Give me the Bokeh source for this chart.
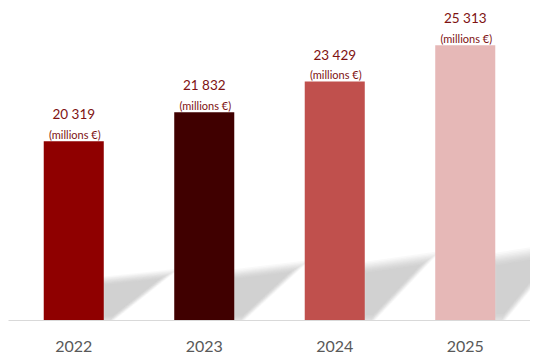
from bokeh.plotting import figure
from bokeh.models import Range1d, FixedTicker, ColumnDataSource
from bokeh.core.properties import value
from bokeh.embed import file_html
from bokeh.resources import INLINE

# ---- data ----
years = ["2022", "2023", "2024", "2025"]
revenue = [20319, 21832, 23429, 25313]
unit_label = "(millions €)"
bar_colors = ["#8f0000", "#400000", "#c0504d", "#e6b8b7"]

BASE = 11000
TOP = 27230
BAR_W = 0.46

centers = [i + 0.5 for i in range(len(years))]
labels = [f"{v:,}".replace(",", " ") for v in revenue]

p = figure(frame_width=522, frame_height=312,
           x_range=Range1d(0, len(years)), y_range=Range1d(BASE, TOP),
           output_backend="svg", toolbar_location=None,
           y_axis_location=None, min_border=0,
           min_border_left=8, min_border_top=8)
p.outline_line_color = None
p.xgrid.visible = False
p.ygrid.visible = False
p.background_fill_color = "white"
p.border_fill_color = "white"

# ---- soft shadows (drawn first, bars on top) ----
layers = [1.22, 1.16, 1.11, 1.06, 1.02, 0.98, 0.94, 0.90, 0.85, 0.80]
for c, v in zip(centers, revenue):
    r = c + BAR_W / 2
    h = v - BASE
    xs = [r - 0.02, r - 0.02, r + 0.50, r + 0.05]
    ys = [BASE, BASE + h * 0.22, BASE + h * 0.26, BASE]
    cx = sum(xs) / 4
    cy = sum(ys) / 4
    for s in layers:
        p.patch([cx + (x - cx) * s for x in xs], [cy + (y - cy) * s for y in ys],
                fill_color="#a8a8a8", fill_alpha=0.075, line_color=None)

# ---- bars ----
src = ColumnDataSource(dict(x=centers, top=revenue, color=bar_colors,
                            label=labels, unit=[unit_label] * len(years)))
p.vbar(x="x", top="top", bottom=BASE, width=BAR_W, fill_color="color",
       line_color=None, source=src)

# ---- labels ----
p.text(x="x", y="top", text="label", source=src, text_align="center",
       text_baseline="alphabetic", y_offset=-27, text_color="#7e1212",
       text_font=value("Lato"), text_font_size="13.5px")
p.text(x="x", y="top", text="unit", source=src, text_align="center",
       text_baseline="alphabetic", y_offset=-7, x_offset=1,
       text_color="#7e1212", text_font=value("Lato"), text_font_size="11px")

# ---- axis ----
ax = p.xaxis[0]
ax.ticker = FixedTicker(ticks=centers)
ax.major_label_overrides = {c: y for c, y in zip(centers, years)}
ax.axis_line_color = "#d9d9d9"
ax.axis_line_width = 1
ax.major_tick_line_color = None
ax.minor_tick_line_color = None
ax.major_tick_out = 0
ax.major_tick_in = 0
ax.major_label_standoff = 20
ax.major_label_text_font = "Lato"
ax.major_label_text_font_size = "16px"
ax.major_label_text_color = "#595959"

open("out.html", "w").write(file_html(p, INLINE))
